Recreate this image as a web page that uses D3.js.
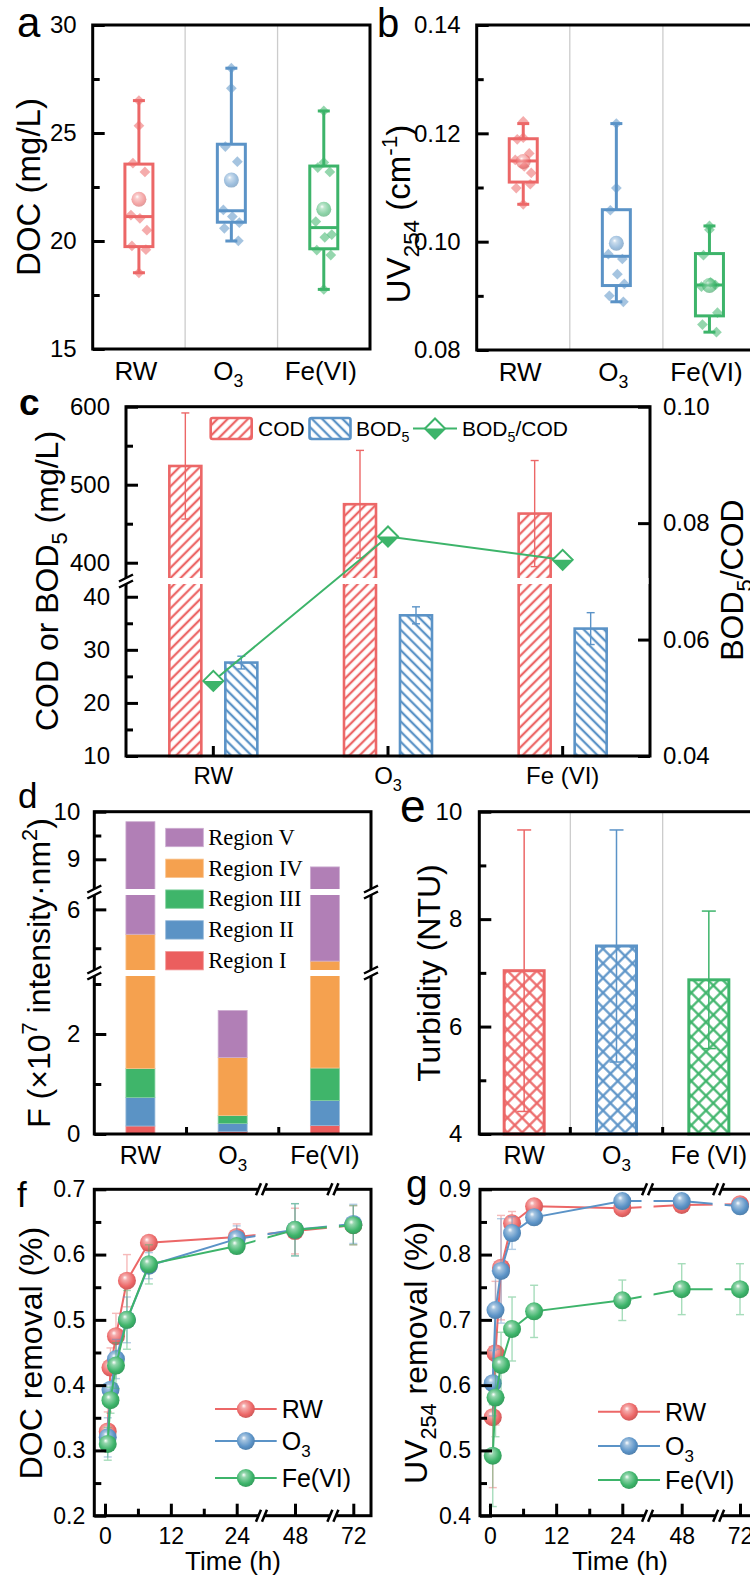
<!DOCTYPE html>
<html>
<head>
<meta charset="utf-8">
<script src="https://cdn.jsdelivr.net/npm/d3@7"></script>
<style>
body { margin: 0; background: #fff; }
svg { display: block; }
</style>
</head>
<body>
<svg id="fig" width="750" height="1577"></svg>
<script>
// ---------- data ----------
const groups = ['RW', 'O_{3}', 'Fe(VI)']
const groupsC = ['RW', 'O_{3}', 'Fe (VI)']
const groupsE = ['RW', 'O_{3}', 'Fe (VI)']

// a: DOC (mg/L) box = [min, q1, median, q3, max]
const docBox = [[18.53, 19.74, 21.13, 23.56, 26.5], [20.0, 20.87, 21.4, 24.48, 28.0], [17.76, 19.64, 20.62, 23.47, 26.02]]
const docMean = [21.93, 22.82, 21.47]
const docPoints = [
  [26.5, 25.34, 23.6, 23.2, 21.2, 21.05, 20.5, 19.77, 19.6, 18.53],
  [28.0, 27.07, 24.37, 23.67, 21.44, 21.13, 20.85, 20.59, 20.01],
  [26.02, 23.64, 23.4, 23.2, 20.9, 20.17, 20.3, 19.58, 19.35, 17.76]
]
// b: UV254 (cm-1)
const uvBox = [[0.1069, 0.1110, 0.1149, 0.1190, 0.1218], [0.0889, 0.0919, 0.0973, 0.1059, 0.1218], [0.0833, 0.0863, 0.0920, 0.0978, 0.1029]]
const uvMean = [0.1148, 0.0997, 0.0919]
const uvPoints = [
  [0.1222, 0.1192, 0.1189, 0.1163, 0.1151, 0.1139, 0.1127, 0.1099, 0.1106, 0.1069],
  [0.1218, 0.1099, 0.1058, 0.0968, 0.0977, 0.0940, 0.0922, 0.0900, 0.0889],
  [0.1029, 0.1022, 0.0975, 0.0920, 0.0917, 0.0925, 0.0869, 0.0847, 0.0833]
]
// c: COD / BOD5 (mg/L) and ratio
const cod = [524, 475, 463]
const codErr = [68, 69, 68]
const bod = [27.6, 36.5, 34]
const bodErr = [1.2, 1.6, 3]
const ratio = [0.0529, 0.0777, 0.0737]
// d: fluorescence regions (x10^7 intensity nm^2)
const regions = ['Region I', 'Region II', 'Region III', 'Region IV', 'Region V']
const regionVals = [
  [0.16, 0.57, 0.58, 4.05, 4.43],
  [0.05, 0.16, 0.16, 1.16, 0.94],
  [0.17, 0.50, 0.65, 3.35, 4.17]
]
// e: turbidity (NTU)
const turb = [7.04, 7.5, 6.87]
const turbErr = [2.62, 2.16, 1.28]
// f, g: removal over time
const times = [0.5, 1, 2, 4, 8, 24, 48, 72]
const series = ['RW', 'O_{3}', 'Fe(VI)']
const docRem = [
  [0.329, 0.427, 0.475, 0.56, 0.618, 0.627, 0.636, 0.645],
  [0.32, 0.393, 0.44, 0.50, 0.583, 0.624, 0.638, 0.647],
  [0.31, 0.377, 0.43, 0.50, 0.585, 0.613, 0.638, 0.645]
]
const docRemErr = [
  [0.03, 0.03, 0.035, 0.04, 0.01, 0.02, 0.035, 0.03],
  [0.03, 0.01, 0.03, 0.035, 0.02, 0.02, 0.04, 0.03],
  [0.025, 0.02, 0.035, 0.045, 0.03, 0.01, 0.04, 0.03]
]
const uvRem = [
  [0.551, 0.649, 0.78, 0.848, 0.874, 0.871, 0.876, 0.877],
  [0.603, 0.715, 0.775, 0.833, 0.857, 0.882, 0.882, 0.874],
  [0.492, 0.581, 0.631, 0.686, 0.713, 0.730, 0.747, 0.747]
]
const uvRemErr = [
  [0.108, 0.11, 0.08, 0.018, 0.006, 0.005, 0.005, 0.005],
  [0.05, 0.06, 0.08, 0.025, 0.01, 0.005, 0.005, 0.005],
  [0.078, 0.06, 0.05, 0.049, 0.04, 0.031, 0.039, 0.039]
]

// ---------- style ----------
const SANS = '"Liberation Sans", Arial, Helvetica, sans-serif'
const SERIF = '"Liberation Serif", "Times New Roman", serif'
const RED = '#EC6767', BLUE = '#5B93C7', GREEN = '#3DB46A'
const colors = [RED, BLUE, GREEN]
const regionColors = ['#EB5E5E', '#5B93C5', '#3FB56A', '#F5A14F', '#B17FB6']
const JIT = [0, 0, -6, 6, -8, 1, 8, -7, 7, 0]

const svg = d3.select('#fig').attr('font-family', SANS)
const defs = svg.append('defs')

// text with _{sub} and ^{sup}
function rich(sel, str, size) {
  const re = /([_^])\{([^}]*)\}|([^_^]+)/g
  let shift = 0, m
  while ((m = re.exec(str))) {
    let text = m[3], fs = size, target = 0
    if (m[1]) {
      text = m[2]; fs = size * 0.68
      target = m[1] === '_' ? size * 0.28 : -size * 0.4
    }
    sel.append('tspan').attr('font-size', fs).attr('dy', target - shift).text(text)
    shift = target
  }
  return sel
}

function hatch(id, color, angle, gap, w, cross) {
  const p = defs.append('pattern').attr('id', id)
    .attr('patternUnits', 'userSpaceOnUse')
    .attr('width', gap).attr('height', gap)
    .attr('patternTransform', `rotate(${angle})`)
  p.append('line').attr('x1', gap / 2).attr('x2', gap / 2).attr('y1', -1).attr('y2', gap + 1)
    .attr('stroke', color).attr('stroke-width', w)
  if (cross) p.append('line').attr('y1', gap / 2).attr('y2', gap / 2).attr('x1', -1).attr('x2', gap + 1)
    .attr('stroke', color).attr('stroke-width', w)
}
hatch('hR', RED, 45, 7.2, 2.3, false)
hatch('hB', BLUE, -45, 7.2, 2.3, false)
colors.forEach((c, i) => hatch('x' + i, c, 45, 10.4, 2.2, true))

function sphere(id, color) {
  const gr = defs.append('radialGradient').attr('id', id)
    .attr('cx', '45%').attr('cy', '42%').attr('r', '62%').attr('fx', '38%').attr('fy', '32%')
  gr.append('stop').attr('offset', '0%').attr('stop-color', '#fff')
  gr.append('stop').attr('offset', '22%').attr('stop-color', d3.interpolateRgb(color, '#fff')(0.45))
  gr.append('stop').attr('offset', '70%').attr('stop-color', color)
  gr.append('stop').attr('offset', '100%').attr('stop-color', d3.color(color).darker(0.5))
}
colors.forEach((c, i) => sphere('s' + i, c))

function frame(g, B) {
  g.append('rect').attr('x', B.l).attr('y', B.t).attr('width', B.r - B.l).attr('height', B.b - B.t)
    .attr('fill', 'none').attr('stroke', '#000').attr('stroke-width', 3)
}

function axisY(g, scale, x, major, minor, o) {
  const mk = o.right ? d3.axisRight : d3.axisLeft
  const a = g.append('g').attr('transform', `translate(${x},0)`)
    .call(mk(scale).tickValues(major).tickSize(-12).tickPadding(o.pad).tickFormat(o.fmt || (d => d)))
  a.select('.domain').remove()
  a.attr('font-family', SANS).attr('font-size', o.size)
  a.selectAll('line').attr('stroke', '#000').attr('stroke-width', 3)
  a.selectAll('text').attr('fill', '#000')
  if (minor) {
    const b = g.append('g').attr('transform', `translate(${x},0)`)
      .call(mk(scale).tickValues(minor).tickSize(-7).tickFormat(() => ''))
    b.select('.domain').remove()
    b.selectAll('line').attr('stroke', '#000').attr('stroke-width', 3)
  }
}

function catLabels(g, x, cats, baseline, size, dx) {
  cats.forEach(c => {
    const t = g.append('text').attr('x', x(c) + x.bandwidth() / 2 + (dx || 0)).attr('y', baseline)
      .attr('text-anchor', 'middle').attr('font-size', size).attr('fill', '#000')
    rich(t, c, size)
  })
}

function yTitle(g, str, x, y, size) {
  const t = g.append('text').attr('transform', `translate(${x},${y}) rotate(-90)`)
    .attr('text-anchor', 'middle').attr('font-size', size).attr('fill', '#000')
  rich(t, str, size)
}

function panelLabel(txt, x, y, size, bold) {
  svg.append('text').attr('x', x).attr('y', y).attr('font-size', size)
    .attr('font-weight', bold ? 'bold' : 'normal').text(txt)
}

function vBreak(g, x, y) {
  g.append('line').attr('x1', x - 7).attr('x2', x + 7).attr('y1', y + 3.5).attr('y2', y - 3.5)
    .attr('stroke', '#000').attr('stroke-width', 2.5)
}
function hBreak(g, x, y) {
  [-3, 3].forEach(o => g.append('line')
    .attr('x1', x + o - 2.5).attr('x2', x + o + 2.5).attr('y1', y + 6).attr('y2', y - 6)
    .attr('stroke', '#000').attr('stroke-width', 2.5))
}

// ---------- a & b: box plots ----------
function boxPanel(B, domain, stats, means, points, major, minor, fmt, pad) {
  const g = svg.append('g')
  const x = d3.scaleBand().domain(groups).range([B.l, B.r])
  const y = d3.scaleLinear().domain(domain).range([B.b, B.t])
  groups.slice(1).forEach(c => g.append('line').attr('x1', x(c)).attr('x2', x(c))
    .attr('y1', B.t).attr('y2', B.b).attr('stroke', '#cccccc').attr('stroke-width', 1.3))
  groups.forEach((c, i) => {
    const cx = x(c) + x.bandwidth() / 2, col = colors[i]
    const [mn, q1, md, q3, mx] = stats[i]
    const gg = g.append('g').attr('stroke', col).attr('stroke-width', 3).attr('fill', 'none')
    gg.append('line').attr('x1', cx).attr('x2', cx).attr('y1', y(q3)).attr('y2', y(mx))
    gg.append('line').attr('x1', cx).attr('x2', cx).attr('y1', y(q1)).attr('y2', y(mn))
    ;[mn, mx].forEach(v => gg.append('line').attr('x1', cx - 6).attr('x2', cx + 6).attr('y1', y(v)).attr('y2', y(v)))
    gg.append('rect').attr('x', cx - 14).attr('width', 28).attr('y', y(q3)).attr('height', y(q1) - y(q3))
    gg.append('line').attr('x1', cx - 14).attr('x2', cx + 14).attr('y1', y(md)).attr('y2', y(md))
    g.selectAll(null).data(points[i]).join('rect')
      .attr('x', -3.8).attr('y', -3.8).attr('width', 7.6).attr('height', 7.6)
      .attr('transform', (d, j) => `translate(${cx + JIT[j % JIT.length]},${y(d)}) rotate(45)`)
      .attr('fill', col).attr('opacity', 0.55)
    g.append('circle').attr('cx', cx).attr('cy', y(means[i])).attr('r', 7.5)
      .attr('fill', `url(#s${i})`).attr('opacity', 0.6)
  })
  frame(g, B)
  axisY(g, y, B.l, major, minor, {pad: pad, size: 24, fmt: fmt})
  catLabels(g, x, groups, B.b + 31, 26, -3)
  return g
}

const A = {l: 92.7, r: 370, t: 25, b: 349}
const gA = boxPanel(A, [15, 30], docBox, docMean, docPoints, [15, 20, 25, 30], [17.5, 22.5, 27.5], d => d, 16)
yTitle(gA, 'DOC (mg/L)', 40, 187, 33)
panelLabel('a', 17, 37, 42)

const Bb = {l: 476.7, r: 756, t: 25, b: 350}
const gB = boxPanel(Bb, [0.08, 0.14], uvBox, uvMean, uvPoints, [0.08, 0.10, 0.12, 0.14], [0.09, 0.11, 0.13], d3.format('.2f'), 16)
yTitle(gB, 'UV_{254} (cm^{-1})', 410, 214, 33)
panelLabel('b', 377, 37, 40)

// ---------- c: COD / BOD5 bars with ratio ----------
{
  const C = {l: 126, r: 650, t: 406.7, b: 756}
  const g = svg.append('g')
  const x = d3.scaleBand().domain(groupsC).range([C.l, C.r])
  const y = d3.scaleLinear().domain([10, 42.4, 380.4, 600]).range([C.b, 584, 578, C.t])
  const y2 = d3.scaleLinear().domain([0.04, 0.10]).range([C.b, C.t])
  const cx = i => x(groupsC[i]) + x.bandwidth() / 2
  const bw = 32
  const bars = [[cod, codErr, -28, 'hR', RED], [bod, bodErr, 28, 'hB', BLUE]]
  bars.forEach(([vals, errs, off, pat, col]) => {
    vals.forEach((v, i) => {
      const bx = cx(i) + off
      g.append('rect').attr('x', bx - bw / 2).attr('width', bw).attr('y', y(v)).attr('height', y(10) - y(v))
        .attr('fill', `url(#${pat})`).attr('stroke', col).attr('stroke-width', 2.6)
      const e = g.append('g').attr('stroke', col).attr('stroke-width', 1.4)
      e.append('line').attr('x1', bx).attr('x2', bx).attr('y1', y(v + errs[i])).attr('y2', y(v - errs[i]))
      ;[v + errs[i], v - errs[i]].forEach(t => e.append('line').attr('x1', bx - 4).attr('x2', bx + 4).attr('y1', y(t)).attr('y2', y(t)))
    })
  })
  frame(g, C)
  axisY(g, y, C.l, [10, 20, 30, 40, 400, 500, 600], [15, 25, 35, 450, 550], {pad: 16, size: 24})
  axisY(g, y2, C.r, [0.04, 0.06, 0.08, 0.10], null, {pad: 13, size: 24, fmt: d3.format('.2f'), right: true})
  // bottom ticks at category centres
  ;[0, 1, 2].forEach(i => g.append('line').attr('x1', cx(i)).attr('x2', cx(i)).attr('y1', C.b).attr('y2', C.b - 10)
    .attr('stroke', '#000').attr('stroke-width', 3))
  // axis break
  g.append('rect').attr('x', C.l - 9).attr('y', 578).attr('width', C.r - C.l + 7.5).attr('height', 6).attr('fill', '#fff')
  vBreak(g, C.l, 578); vBreak(g, C.l, 584)
  // ratio line
  const line = d3.line().x((d, i) => cx(i)).y(d => y2(d))
  g.append('path').attr('d', line(ratio)).attr('fill', 'none').attr('stroke', GREEN).attr('stroke-width', 2)
  function halfDiamond(px, py) {
    const w = 10, h = 10
    g.append('path').attr('d', `M${px - w},${py}L${px},${py - h}L${px + w},${py}L${px},${py + h}Z`)
      .attr('fill', '#fff').attr('stroke', GREEN).attr('stroke-width', 2)
    g.append('path').attr('d', `M${px - w},${py}L${px + w},${py}L${px},${py + h}Z`).attr('fill', GREEN)
  }
  ratio.forEach((v, i) => halfDiamond(cx(i), y2(v)))
  catLabels(g, x, groupsC, 784, 24)
  // legend
  const lg = g.append('g').attr('font-size', 21)
  ;[[210.7, 'hR', RED, 'COD', 258], [309.5, 'hB', BLUE, 'BOD_{5}', 356]].forEach(([lx, pat, col, lab, tx]) => {
    lg.append('rect').attr('x', lx).attr('y', 418).attr('width', 41).attr('height', 21).attr('rx', 2)
      .attr('fill', `url(#${pat})`).attr('stroke', col).attr('stroke-width', 2.6)
    rich(lg.append('text').attr('x', tx).attr('y', 436), lab, 21)
  })
  lg.append('line').attr('x1', 413).attr('x2', 457).attr('y1', 428.5).attr('y2', 428.5).attr('stroke', GREEN).attr('stroke-width', 2)
  halfDiamond(435, 428.5)
  rich(lg.append('text').attr('x', 462).attr('y', 436), 'BOD_{5}/COD', 21)
  yTitle(g, 'COD or BOD_{5} (mg/L)', 58, 581, 32)
  yTitle(g, 'BOD_{5}/COD', 743, 580, 32)
  panelLabel('c', 19, 415, 37, true)
}

// ---------- d: stacked fluorescence regions ----------
{
  const D = {l: 94.3, r: 371, t: 811.7, b: 1134}
  const g = svg.append('g')
  const x = d3.scaleBand().domain(groups).range([D.l, D.r])
  const y = d3.scaleLinear().domain([0, 3.16, 4.44, 6.37, 8.376, 10]).range([D.b, 976, 970, 895, 889, D.t])
  const rows = groups.map((c, i) => {
    const r = {group: c}
    regions.forEach((k, j) => { r[k] = regionVals[i][j] })
    return r
  })
  const stack = d3.stack().keys(regions)(rows)
  stack.forEach((layer, j) => {
    g.selectAll(null).data(layer).join('rect')
      .attr('x', d => x(d.data.group) + x.bandwidth() / 2 - 14.5).attr('width', 29)
      .attr('y', d => y(d[1])).attr('height', d => y(d[0]) - y(d[1]))
      .attr('fill', regionColors[j]).attr('stroke', d3.interpolateRgb(regionColors[j], '#fff')(0.35)).attr('stroke-width', 0.8)
  })
  frame(g, D)
  axisY(g, y, D.l, [0, 2, 6, 9, 10], [1, 3, 5, 9.5], {pad: 14, size: 24})
  groups.slice(1).forEach(c => g.append('line').attr('x1', x(c)).attr('x2', x(c)).attr('y1', D.b).attr('y2', D.b - 7)
    .attr('stroke', '#000').attr('stroke-width', 3))
  ;[[889, 895], [970, 976]].forEach(([a, b]) => {
    g.append('rect').attr('x', D.l - 9).attr('y', a).attr('width', D.r - D.l + 18).attr('height', b - a).attr('fill', '#fff')
    ;[D.l, D.r].forEach(ax => { vBreak(g, ax, a); vBreak(g, ax, b) })
  })
  // legend (top to bottom: V .. I)
  const lg = g.append('g').attr('font-family', SERIF).attr('font-size', 22.5)
  regions.slice().reverse().forEach((k, n) => {
    const ly = 828.3 + n * 30.8
    lg.append('rect').attr('x', 165.7).attr('y', ly).attr('width', 37.6).attr('height', 18.4)
      .attr('fill', regionColors[4 - n]).attr('stroke', d3.interpolateRgb(regionColors[4 - n], '#fff')(0.35)).attr('stroke-width', 0.8)
    lg.append('text').attr('x', 208.3).attr('y', ly + 16.5).text(k)
  })
  catLabels(g, x, groups, 1164, 25)
  yTitle(g, 'F (×10^{7} intensity·nm^{2})', 50, 973, 32)
  panelLabel('d', 18, 808, 35)
}

// ---------- e: turbidity ----------
{
  const E = {l: 479.3, r: 757, t: 811.7, b: 1134}
  const g = svg.append('g')
  const x = d3.scaleBand().domain(groupsE).range([478, 755])
  const y = d3.scaleLinear().domain([4, 10]).range([E.b, E.t])
  groupsE.slice(1).forEach(c => g.append('line').attr('x1', x(c)).attr('x2', x(c))
    .attr('y1', E.t).attr('y2', E.b).attr('stroke', '#cccccc').attr('stroke-width', 1.3))
  turb.forEach((v, i) => {
    const cx = x(groupsE[i]) + x.bandwidth() / 2, col = colors[i]
    g.append('rect').attr('x', cx - 20).attr('width', 40).attr('y', y(v)).attr('height', y(4) - y(v))
      .attr('fill', `url(#x${i})`).attr('stroke', col).attr('stroke-width', 3)
    const e = g.append('g').attr('stroke', col).attr('stroke-width', 1.5)
    e.append('line').attr('x1', cx).attr('x2', cx).attr('y1', y(v + turbErr[i])).attr('y2', y(v - turbErr[i]))
    ;[v + turbErr[i], v - turbErr[i]].forEach(t => e.append('line').attr('x1', cx - 7).attr('x2', cx + 7).attr('y1', y(t)).attr('y2', y(t)))
  })
  frame(g, E)
  axisY(g, y, E.l, [4, 6, 8, 10], [5, 7, 9], {pad: 17, size: 24})
  groupsE.slice(1).forEach(c => g.append('line').attr('x1', x(c)).attr('x2', x(c)).attr('y1', E.b).attr('y2', E.b - 7)
    .attr('stroke', '#000').attr('stroke-width', 3))
  catLabels(g, x, groupsE, 1164, 25)
  yTitle(g, 'Turbidity (NTU)', 440, 973, 32)
  panelLabel('e', 400, 821.7, 46)
}

// ---------- f & g: removal kinetics ----------
function timePanel(B, xr, breaks, vals, errs, ydom, major, minor, legend, titleX) {
  const g = svg.append('g')
  const x = d3.scaleLinear().domain([0, 24, 48, 72]).range(xr)
  const y = d3.scaleLinear().domain(ydom).range([B.b, B.t])
  const line = d3.line().x((d, i) => x(times[i])).y(d => y(d))
  vals.forEach((s, k) => {
    const col = colors[k]
    const e = g.append('g').attr('stroke', col).attr('stroke-width', 1.4).attr('opacity', 0.45)
    s.forEach((v, i) => {
      const px = x(times[i])
      e.append('line').attr('x1', px).attr('x2', px).attr('y1', y(v + errs[k][i])).attr('y2', y(v - errs[k][i]))
      ;[v + errs[k][i], v - errs[k][i]].forEach(t => e.append('line').attr('x1', px - 4).attr('x2', px + 4).attr('y1', y(t)).attr('y2', y(t)))
    })
    g.append('path').attr('d', line(s)).attr('fill', 'none').attr('stroke', col).attr('stroke-width', 2)
    g.selectAll(null).data(s).join('circle')
      .attr('cx', (d, i) => x(times[i])).attr('cy', d => y(d)).attr('r', 9)
      .attr('fill', `url(#s${k})`)
  })
  // gaps in the lines at the axis breaks
  breaks.forEach(bt => g.append('rect').attr('x', x(bt) - 6).attr('width', 12).attr('y', B.t + 2).attr('height', B.b - B.t - 4).attr('fill', '#fff'))
  frame(g, B)
  axisY(g, y, B.l, major, minor, {pad: 9, size: 23, fmt: d3.format('.1f')})
  const xa = g.append('g').attr('transform', `translate(0,${B.b})`)
    .call(d3.axisBottom(x).tickValues([0, 12, 24, 48, 72]).tickSize(-12).tickPadding(12))
  xa.select('.domain').remove()
  xa.attr('font-family', SANS).attr('font-size', 23)
  xa.selectAll('line').attr('stroke', '#000').attr('stroke-width', 3)
  xa.selectAll('text').attr('fill', '#000')
  const xm = g.append('g').attr('transform', `translate(0,${B.b})`)
    .call(d3.axisBottom(x).tickValues([6, 18]).tickSize(-7).tickFormat(() => ''))
  xm.select('.domain').remove()
  xm.selectAll('line').attr('stroke', '#000').attr('stroke-width', 3)
  breaks.forEach(bt => {
    ;[B.t, B.b].forEach(ay => {
      g.append('rect').attr('x', x(bt) - 3).attr('width', 6).attr('y', ay - 3).attr('height', 6).attr('fill', '#fff')
      hBreak(g, x(bt), ay)
    })
  })
  g.append('text').attr('x', titleX).attr('y', 1570).attr('text-anchor', 'middle').attr('font-size', 26).text('Time (h)')
  // legend
  series.forEach((s, k) => {
    const ly = legend.rows[k]
    g.append('line').attr('x1', legend.x0).attr('x2', legend.x1).attr('y1', ly).attr('y2', ly).attr('stroke', colors[k]).attr('stroke-width', 2)
    g.append('circle').attr('cx', (legend.x0 + legend.x1) / 2).attr('cy', ly).attr('r', 9).attr('fill', `url(#s${k})`)
    rich(g.append('text').attr('x', legend.tx).attr('y', ly + 9).attr('font-size', 25), s, 25)
  })
  return g
}

const F = {l: 94.3, r: 371, t: 1189.3, b: 1515.7}
const gF = timePanel(F, [105, 236.7, 295, 353.3], [34.2, 63.6], docRem, docRemErr, [0.2, 0.7],
  [0.2, 0.3, 0.4, 0.5, 0.6, 0.7], [0.25, 0.35, 0.45, 0.55, 0.65],
  {x0: 215, x1: 276.7, tx: 281.7, rows: [1409, 1441, 1478]}, 233)
yTitle(gF, 'DOC removal (%)', 42, 1353, 32)
panelLabel('f', 17, 1206.7, 35)

const G = {l: 480, r: 757, t: 1189.3, b: 1515.7}
const gG = timePanel(G, [490, 622.3, 681.7, 740], [34.2, 63.2], uvRem, uvRemErr, [0.4, 0.9],
  [0.4, 0.5, 0.6, 0.7, 0.8, 0.9], [0.45, 0.55, 0.65, 0.75, 0.85],
  {x0: 598, x1: 660, tx: 665, rows: [1411.7, 1446, 1480]}, 620)
yTitle(gG, 'UV_{254} removal (%)', 427, 1353, 32)
panelLabel('g', 406, 1197, 39)
</script>
</body>
</html>
